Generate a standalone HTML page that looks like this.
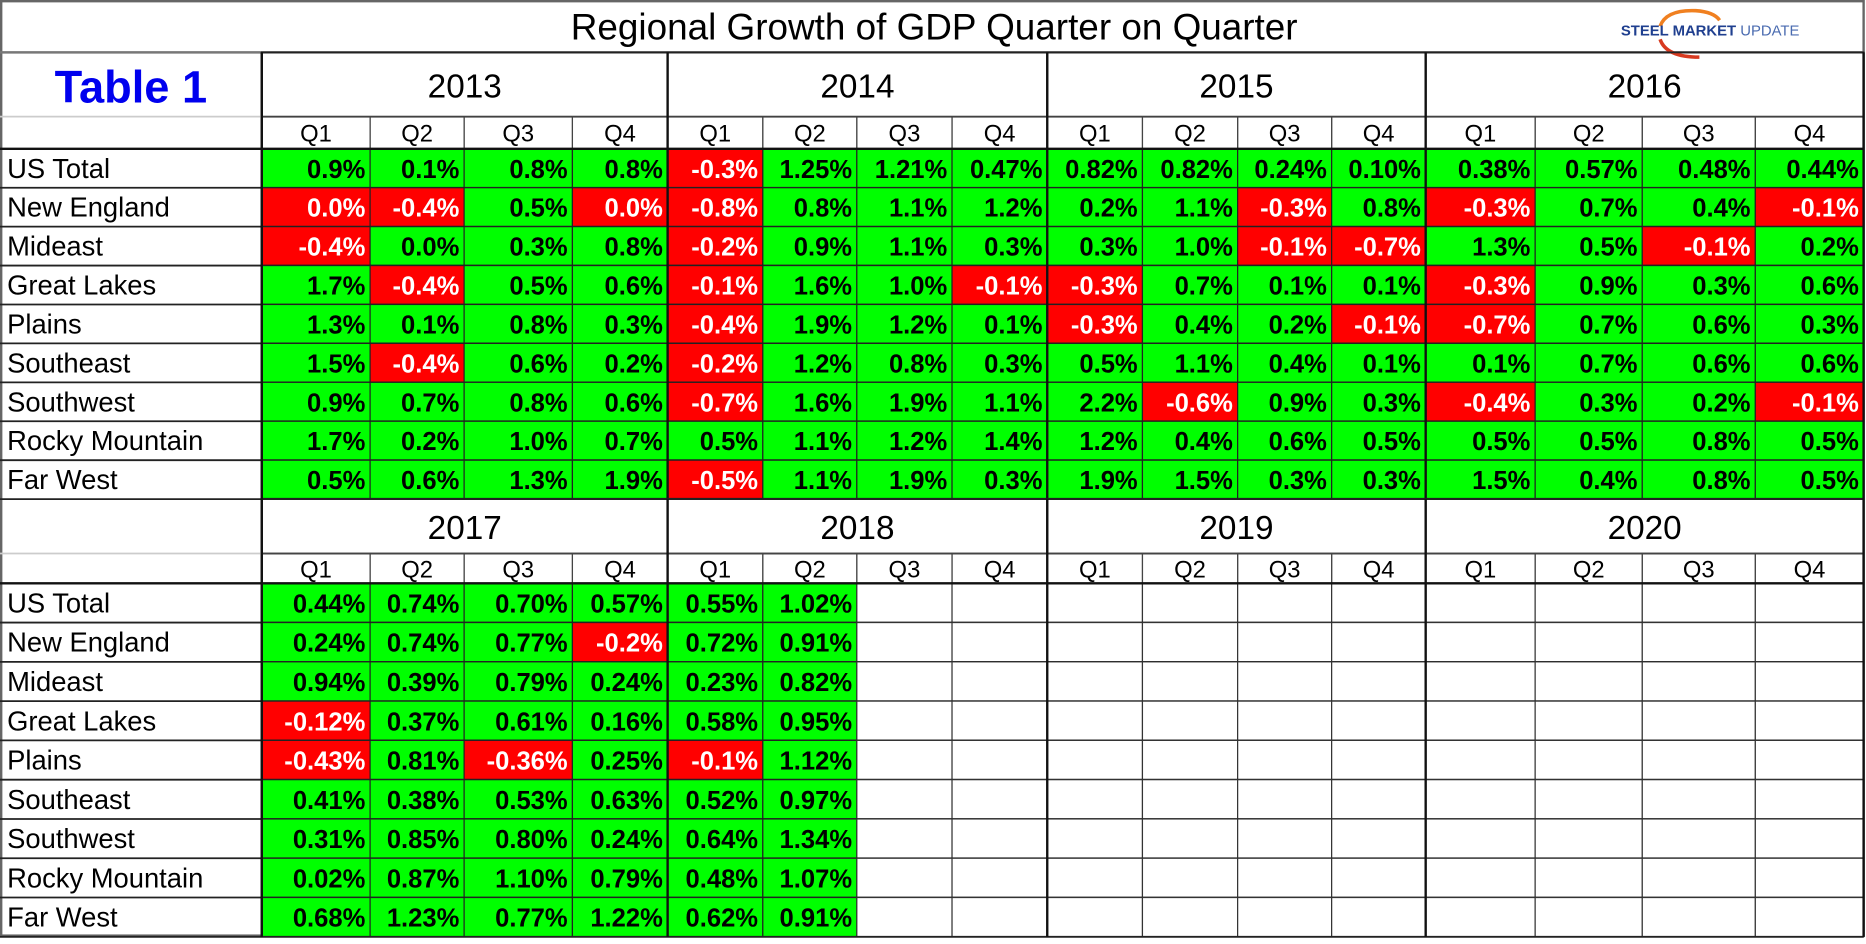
<!DOCTYPE html>
<html><head><meta charset="utf-8"><style>
html,body{margin:0;padding:0;background:#fff;overflow:hidden}
#wrap{width:1568px;height:788px;transform:scale(1.19005,1.19036);transform-origin:0 0;position:absolute;left:0;top:0}
svg text{font-family:"Liberation Sans",sans-serif}
</style></head><body>
<div id="wrap">
<svg id="s" width="1568" height="788" xmlns="http://www.w3.org/2000/svg"></svg>
</div>
<script>
const regions=["US Total","New England","Mideast","Great Lakes","Plains","Southeast","Southwest","Rocky Mountain","Far West"];
const yearsTop=["2013","2014","2015","2016"];
const yearsBottom=["2017","2018","2019","2020"];
const quarters=["Q1","Q2","Q3","Q4"];
const topValues=[
["0.9%","0.1%","0.8%","0.8%","-0.3%","1.25%","1.21%","0.47%","0.82%","0.82%","0.24%","0.10%","0.38%","0.57%","0.48%","0.44%"],
["0.0%","-0.4%","0.5%","0.0%","-0.8%","0.8%","1.1%","1.2%","0.2%","1.1%","-0.3%","0.8%","-0.3%","0.7%","0.4%","-0.1%"],
["-0.4%","0.0%","0.3%","0.8%","-0.2%","0.9%","1.1%","0.3%","0.3%","1.0%","-0.1%","-0.7%","1.3%","0.5%","-0.1%","0.2%"],
["1.7%","-0.4%","0.5%","0.6%","-0.1%","1.6%","1.0%","-0.1%","-0.3%","0.7%","0.1%","0.1%","-0.3%","0.9%","0.3%","0.6%"],
["1.3%","0.1%","0.8%","0.3%","-0.4%","1.9%","1.2%","0.1%","-0.3%","0.4%","0.2%","-0.1%","-0.7%","0.7%","0.6%","0.3%"],
["1.5%","-0.4%","0.6%","0.2%","-0.2%","1.2%","0.8%","0.3%","0.5%","1.1%","0.4%","0.1%","0.1%","0.7%","0.6%","0.6%"],
["0.9%","0.7%","0.8%","0.6%","-0.7%","1.6%","1.9%","1.1%","2.2%","-0.6%","0.9%","0.3%","-0.4%","0.3%","0.2%","-0.1%"],
["1.7%","0.2%","1.0%","0.7%","0.5%","1.1%","1.2%","1.4%","1.2%","0.4%","0.6%","0.5%","0.5%","0.5%","0.8%","0.5%"],
["0.5%","0.6%","1.3%","1.9%","-0.5%","1.1%","1.9%","0.3%","1.9%","1.5%","0.3%","0.3%","1.5%","0.4%","0.8%","0.5%"]];
const bottomValues=[
["0.44%","0.74%","0.70%","0.57%","0.55%","1.02%"],
["0.24%","0.74%","0.77%","-0.2%","0.72%","0.91%"],
["0.94%","0.39%","0.79%","0.24%","0.23%","0.82%"],
["-0.12%","0.37%","0.61%","0.16%","0.58%","0.95%"],
["-0.43%","0.81%","-0.36%","0.25%","-0.1%","1.12%"],
["0.41%","0.38%","0.53%","0.63%","0.52%","0.97%"],
["0.31%","0.85%","0.80%","0.24%","0.64%","1.34%"],
["0.02%","0.87%","1.10%","0.79%","0.48%","1.07%"],
["0.68%","1.23%","0.77%","1.22%","0.62%","0.91%"]];
// zero values shown red (flat/declining per source)
const redZeros=[[1,0],[1,3],[2,0]];

const S=document.getElementById('s');const NS="http://www.w3.org/2000/svg";
function el(t,a,p){const e=document.createElementNS(NS,t);for(const k in a)e.setAttribute(k,a[k]);(p||S).appendChild(e);return e;}
const colX=[220,311,390,481,561,641,720,800,880,960,1040,1119,1198,1290,1380,1475,1566];
function block(top,years,values,isTop){
  const yearTop=top,qTop=top+(isTop?54:46),dTop=qTop+(isTop?27:25),rh=isTop?32.7:33;
  for(let r=0;r<regions.length;r++){
    const y=dTop+r*rh;
    const t=el('text',{x:6,y:y+rh/2+8,'font-size':23,fill:'#000'});t.textContent=regions[r];
    
    
    for(let c=0;c<16;c++){
      const v=values[r][c];const x0=colX[c],x1=colX[c+1];
      if(v===undefined){el('rect',{x:x0,y:y,width:x1-x0,height:rh,fill:'#fff',stroke:'#333','stroke-width':1});continue;}
      let red=parseFloat(v)<0;
      if(isTop)for(const z of redZeros)if(z[0]===r&&z[1]===c)red=true;
      const rc=el('rect',{x:x0,y:y,width:x1-x0,height:rh,fill:red?'#ff0000':'#00ff00',stroke:'#222','stroke-width':1});
      
      
      const tx=el('text',{x:x1-4,y:y+rh/2+8,'font-size':21.5,'font-weight':'bold','text-anchor':'end',fill:red?'#fff':'#000'});
      tx.textContent=v;
      
      
    }
    el('line',{x1:0,x2:1566,y1:y+rh,y2:y+rh,stroke:'#222','stroke-width':1.5});
  }
  for(let g=0;g<4;g++){
    const x0=colX[g*4],x1=colX[g*4+4];
    el('rect',{x:x0,y:yearTop,width:x1-x0,height:qTop-yearTop,fill:'none',stroke:'#222','stroke-width':1.5});
    const yt=el('text',{x:(x0+x1)/2,y:yearTop+(qTop-yearTop)/2+11,'font-size':28,'text-anchor':'middle'});
    yt.textContent=years[g];
    
    
    for(let q=0;q<4;q++){
      const a=colX[g*4+q],b=colX[g*4+q+1];
      el('rect',{x:a,y:qTop,width:b-a,height:dTop-qTop,fill:'none',stroke:'#444','stroke-width':1});
      const qt=el('text',{x:(a+b)/2,y:qTop+(dTop-qTop)/2+7.5,'font-size':20,'text-anchor':'middle'});
      qt.textContent=quarters[q];
      
      
    }
    el('line',{x1:x0,x2:x0,y1:yearTop,y2:dTop+rh*9,stroke:'#111','stroke-width':2});
  }
  el('line',{x1:0,x2:1566,y1:dTop,y2:dTop,stroke:'#111','stroke-width':2});
  el('line',{x1:0,x2:220,y1:qTop,y2:qTop,stroke:'#ccc','stroke-width':1.5});
}
el('rect',{x:1,y:1,width:1565,height:785,fill:'#fff',stroke:'#666','stroke-width':2});
const title=el('text',{x:785,y:33,'font-size':31,'text-anchor':'middle'});title.textContent="Regional Growth of GDP Quarter on Quarter";

el('line',{x1:0,x2:1566,y1:44,y2:44,stroke:'#777','stroke-width':2});
const lg=el('g',{});
el('path',{d:'M1395 22 Q1400 8 1425 9 Q1440 10 1445 17',fill:'none',stroke:'#f08020','stroke-width':3},lg);
el('path',{d:'M1395 33 Q1400 48 1428 48',fill:'none',stroke:'#d83a20','stroke-width':3},lg);
const lt=el('text',{x:1362,y:30,'font-size':12.5,'font-weight':'bold',fill:'#1f3f8f'},lg);lt.textContent="STEEL MARKET ";
const lt2=el('tspan',{'font-weight':'normal',fill:'#4a6bb0'},lt);lt2.textContent="UPDATE";
const t1=el('text',{x:110,y:86,'font-size':38,'font-weight':'bold','text-anchor':'middle',fill:'#0000ee'});t1.textContent="Table 1";

block(44,yearsTop,topValues,true);
block(419,yearsBottom,bottomValues,false);
el('line',{x1:220,x2:220,y1:44,y2:787,stroke:'#111','stroke-width':2});
el('line',{x1:1566,x2:1566,y1:44,y2:787,stroke:'#111','stroke-width':2});
</script>
</body></html>
